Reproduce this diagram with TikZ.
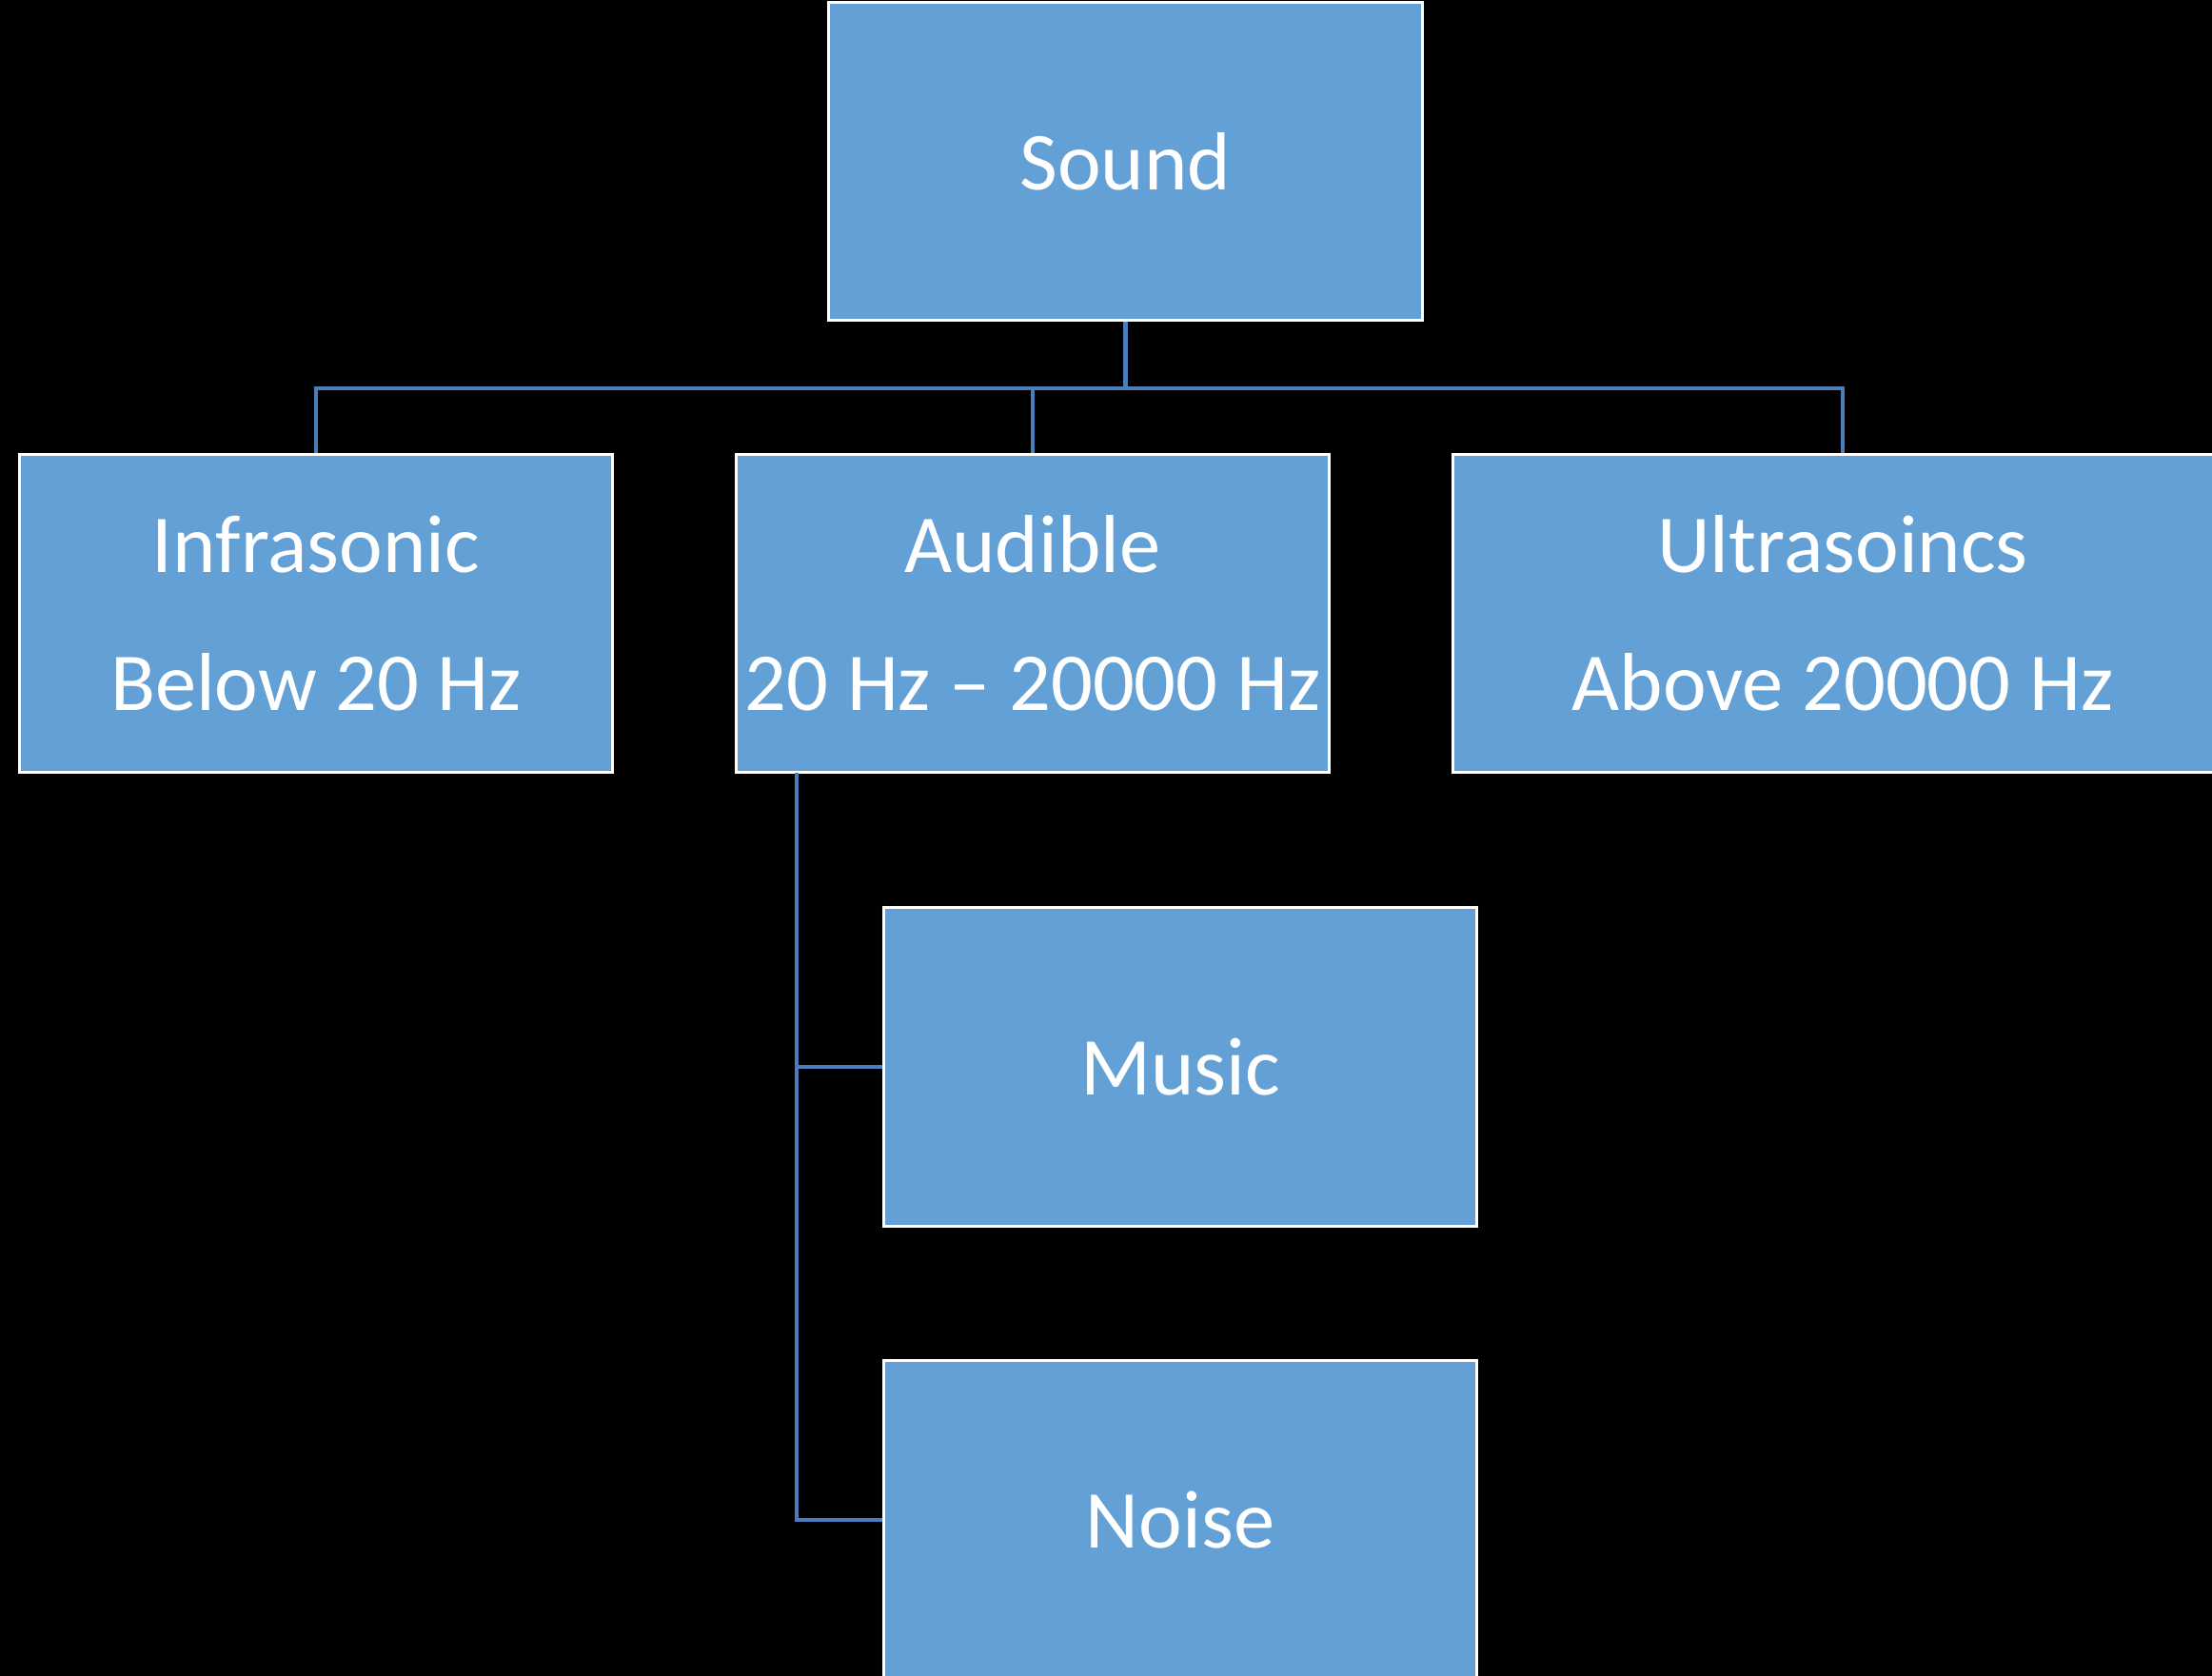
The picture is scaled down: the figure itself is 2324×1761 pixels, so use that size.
\documentclass[tikz,border=0pt]{standalone}
\usepackage{fontspec}
\setmainfont{Carlito}
\definecolor{boxfill}{RGB}{98,160,213}
\definecolor{linkcol}{RGB}{74,126,187}
\begin{document}
\begin{tikzpicture}[x=0.01cm,y=-0.01cm,
  box/.style={draw=white,line width=0.9pt,fill=boxfill,text=white,
    minimum width=6.22cm,minimum height=3.34cm,inner sep=0pt,align=center,
    font=\fontsize{24.6pt}{41.3pt}\selectfont},
  link/.style={draw=linkcol,line width=1.15pt}]
\fill[black] (0,0) rectangle (2324,1761);
\useasboundingbox (0,0) rectangle (2324,1761);
\begin{scope}
\clip (0,0) rectangle (2324,1761);
\coordinate (bus) at (1182.5,408);
\coordinate (trunk) at (837,812);
\node[box,minimum width=6.23cm,minimum height=3.33cm] (sound) at (1182.5,169.5) {Sound};
\node[box] (infra) at (332,644.5) {Infrasonic\\Below 20 Hz};
\node[box] (aud) at (1085,644.5) {Audible\\20 Hz – 20000 Hz};
\node[box,minimum width=8.18cm] (ultra) at (1936,644.5) {Ultrasoincs\\Above 20000 Hz};
\node[box] (music) at (1240,1121) {Music};
\node[box] (noise) at (1240,1597) {Noise};
\draw[link] (sound.south) -- (bus);
\draw[link] (infra.north) |- (bus) -| (ultra.north);
\draw[link] (aud.north) -- (aud.north |- bus);
\draw[link] (trunk) |- (music.west);
\draw[link] (trunk) |- (noise.west);
\end{scope}
\end{tikzpicture}
\end{document}
